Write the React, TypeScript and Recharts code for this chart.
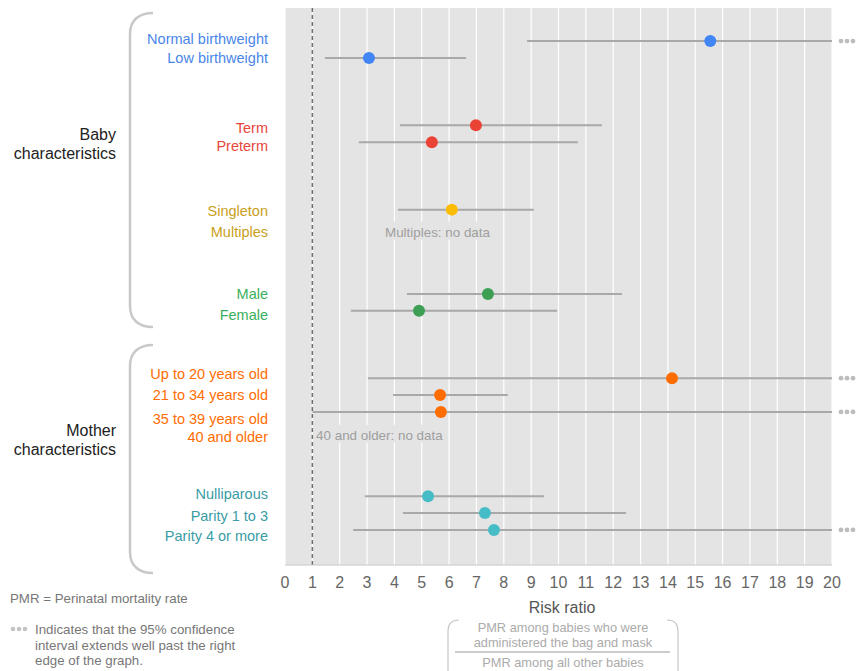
import React from 'react';
import { ScatterChart, Scatter, XAxis, YAxis, CartesianGrid, ReferenceLine } from 'recharts';

// ---------- data ----------
const categories = [
  'Normal birthweight', 'Low birthweight',
  'Term', 'Preterm',
  'Singleton', 'Multiples',
  'Male', 'Female',
  'Up to 20 years old', '21 to 34 years old', '35 to 39 years old', '40 and older',
  'Nulliparous', 'Parity 1 to 3', 'Parity 4 or more',
];
const groupOf = [
  'birthweight', 'birthweight',
  'gestation', 'gestation',
  'plurality', 'plurality',
  'sex', 'sex',
  'age', 'age', 'age', 'age',
  'parity', 'parity', 'parity',
];
// row slot of each category (categorical position, top to bottom)
const rows = [0, 1, 5, 6, 10, 11.25, 15, 16, 20, 21, 22, 23.3, 27, 28, 29];
const riskRatio = [15.55, 3.07, 6.98, 5.37, 6.1, null, 7.42, 4.9, 14.15, 5.67, 5.7, null, 5.23, 7.31, 7.64];
const ciLow = [8.85, 1.46, 4.2, 2.7, 4.13, null, 4.46, 2.41, 3.03, 3.95, 1.0, null, 2.92, 4.31, 2.49];
const ciHigh = [null, 6.62, 11.59, 10.71, 9.1, null, 12.32, 9.95, null, 8.15, null, null, 9.47, 12.47, null];
const extendsPast = [true, false, false, false, false, false, false, false, true, false, true, false, false, false, true];
const noDataNotes = ['Multiples: no data', '40 and older: no data'];
const noDataCategory = ['Multiples', '40 and older'];
const noDataX = [3.62, 1.1];
const xTicks = [0, 1, 2, 3, 4, 5, 6, 7, 8, 9, 10, 11, 12, 13, 14, 15, 16, 17, 18, 19, 20];
const referenceRatio = 1;

// ---------- style ----------
const FONT = '"Liberation Sans", Arial, Helvetica, sans-serif';
const DOT: Record<string, string> = {
  birthweight: '#4285f4',
  gestation: '#ea4335',
  plurality: '#fbbc04',
  sex: '#3c9f53',
  age: '#ff6d01',
  parity: '#46bdc6',
};
const LABEL: Record<string, string> = {
  birthweight: '#4a86e8',
  gestation: '#e8453c',
  plurality: '#c9a020',
  sex: '#3bb05c',
  age: '#ff6d01',
  parity: '#3a9ca5',
};
const LABEL_NUDGE: Record<string, number> = {
  'Normal birthweight': -2, 'Term': 3, 'Preterm': 4, 'Singleton': 1, 'Multiples': 1,
  'Female': 4, 'Up to 20 years old': -4, '35 to 39 years old': 7, '40 and older': 3,
  'Nulliparous': -2, 'Parity 1 to 3': 3, 'Parity 4 or more': 6,
};

const W = 860;
const H = 671;

const CatTick = (props: any) => {
  const { y, payload } = props;
  const i = rows.indexOf(payload.value);
  if (i < 0) return null;
  const name = categories[i];
  return (
    <text x={268} y={y + (LABEL_NUDGE[name] || 0)} dy={5} textAnchor="end" fontSize={14.5}
      fontFamily={FONT} fill={LABEL[groupOf[i]]}>{name}</text>
  );
};

const DotShape = (props: any) => {
  const { cx, cy, payload } = props;
  return <circle cx={cx} cy={cy} r={6} fill={payload.color} />;
};

const EmptyShape = () => <g />;

const MoreShape = (props: any) => {
  const { cx, cy } = props;
  return (
    <g fill="#bdbdbd">
      <circle cx={cx + 9} cy={cy} r={2.4} />
      <circle cx={cx + 15} cy={cy} r={2.4} />
      <circle cx={cx + 21} cy={cy} r={2.4} />
    </g>
  );
};

const NoDataShape = (props: any) => {
  const { cx, cy, payload } = props;
  const w = payload.text.length * 6.2;
  return (
    <g>
      <rect x={cx - 1} y={cy - 9} width={w} height={18} fill="#e4e4e4" />
      <text x={cx + 1} y={cy + 2} dy={4} fontSize={13.4} fontFamily={FONT} fill="#9e9e9e">{payload.text}</text>
    </g>
  );
};

export default function App() {
  const pointData = categories
    .map((c, i) => (riskRatio[i] == null ? null : { x: riskRatio[i], y: rows[i], color: DOT[groupOf[i]], name: c }))
    .filter(Boolean) as any[];
  const ciData = categories
    .map((c, i) => (ciLow[i] == null ? null : [
      { x: ciLow[i], y: rows[i] },
      { x: extendsPast[i] ? xTicks[xTicks.length - 1] : ciHigh[i], y: rows[i] },
    ]))
    .filter(Boolean) as any[];
  const moreData = rows
    .filter((_, i) => extendsPast[i])
    .map((r) => ({ x: xTicks[xTicks.length - 1], y: r }));
  const noData = noDataNotes.map((t, k) => ({
    x: noDataX[k],
    y: rows[categories.indexOf(noDataCategory[k])],
    text: t,
  }));

  return (
    <div style={{ position: 'absolute', left: 0, top: 0, width: W, height: H, fontFamily: FONT, background: '#fff' }}>
      <ScatterChart width={W} height={H} margin={{ top: 8, right: 28, bottom: 76, left: 0 }}>
        <CartesianGrid horizontal={false} stroke="#ffffff" strokeWidth={1.2} fill="#e4e4e4" fillOpacity={1} />
        <XAxis type="number" dataKey="x" domain={[0, 20]} ticks={xTicks} interval={0}
          tickLine={false} axisLine={{ stroke: '#c8c8c8' }} tickMargin={6} height={30}
          tick={{ fill: '#666', fontSize: 16, fontFamily: FONT }} />
        <YAxis type="number" dataKey="y" domain={[-1.96, 31.08]} reversed ticks={rows} interval={0}
          width={285} axisLine={false} tickLine={false} tick={<CatTick />} />
        <ReferenceLine x={referenceRatio} stroke="#707070" strokeWidth={1.5} strokeDasharray="4 3" />
        <Scatter data={noData} shape={<NoDataShape />} isAnimationActive={false} legendType="none" />
        {ciData.map((seg, k) => (
          <Scatter key={'ci' + k} data={seg} line={{ stroke: '#a9a9a9', strokeWidth: 2 }}
            shape={<EmptyShape />} isAnimationActive={false} legendType="none" />
        ))}
        <Scatter data={moreData} shape={<MoreShape />} isAnimationActive={false} legendType="none" />
        <Scatter data={pointData} shape={<DotShape />} isAnimationActive={false} legendType="none" />
      </ScatterChart>

      <svg width={W} height={H} style={{ position: 'absolute', left: 0, top: 0, pointerEvents: 'none' }}>
        {/* group brackets */}
        <path d="M153,13 C139,13 130,20 130,34 L130,306 C130,320 139,327 153,327" fill="none" stroke="#c8c8c8" strokeWidth={2.5} />
        <path d="M153,345 C139,345 130,352 130,366 L130,552 C130,566 139,573 153,573" fill="none" stroke="#c8c8c8" strokeWidth={2.5} />
        <g fontFamily={FONT} fontSize={16} fill="#222" textAnchor="end">
          <text x={116} y={140}>Baby</text>
          <text x={116} y={159}>characteristics</text>
          <text x={116} y={436}>Mother</text>
          <text x={116} y={455}>characteristics</text>
        </g>
        {/* axis title */}
        <text x={562} y={613} textAnchor="middle" fontFamily={FONT} fontSize={16} fill="#555">Risk ratio</text>
        {/* notes */}
        <g fontFamily={FONT} fontSize={13.3} fill="#777">
          <text x={10} y={603}>PMR = Perinatal mortality rate</text>
          <text x={35} y={634}>Indicates that the 95% confidence</text>
          <text x={35} y={650}>interval extends well past the right</text>
          <text x={35} y={665}>edge of the graph.</text>
        </g>
        <g fill="#c4c4c4">
          <circle cx={13} cy={629} r={2.3} />
          <circle cx={19} cy={629} r={2.3} />
          <circle cx={25} cy={629} r={2.3} />
        </g>
        {/* formula box */}
        <path d="M459,620 C452,620 448,624 448,631 L448,671" fill="none" stroke="#c8c8c8" strokeWidth={1.2} />
        <path d="M667,620 C674,620 678,624 678,631 L678,671" fill="none" stroke="#c8c8c8" strokeWidth={1.2} />
        <line x1={455} x2={670} y1={652} y2={652} stroke="#999" strokeWidth={1} />
        <g fontFamily={FONT} fontSize={12.8} fill="#ababab" textAnchor="middle">
          <text x={563} y={632}>PMR among babies who were</text>
          <text x={563} y={647}>administered the bag and mask</text>
          <text x={563} y={667}>PMR among all other babies</text>
        </g>
      </svg>
    </div>
  );
}
